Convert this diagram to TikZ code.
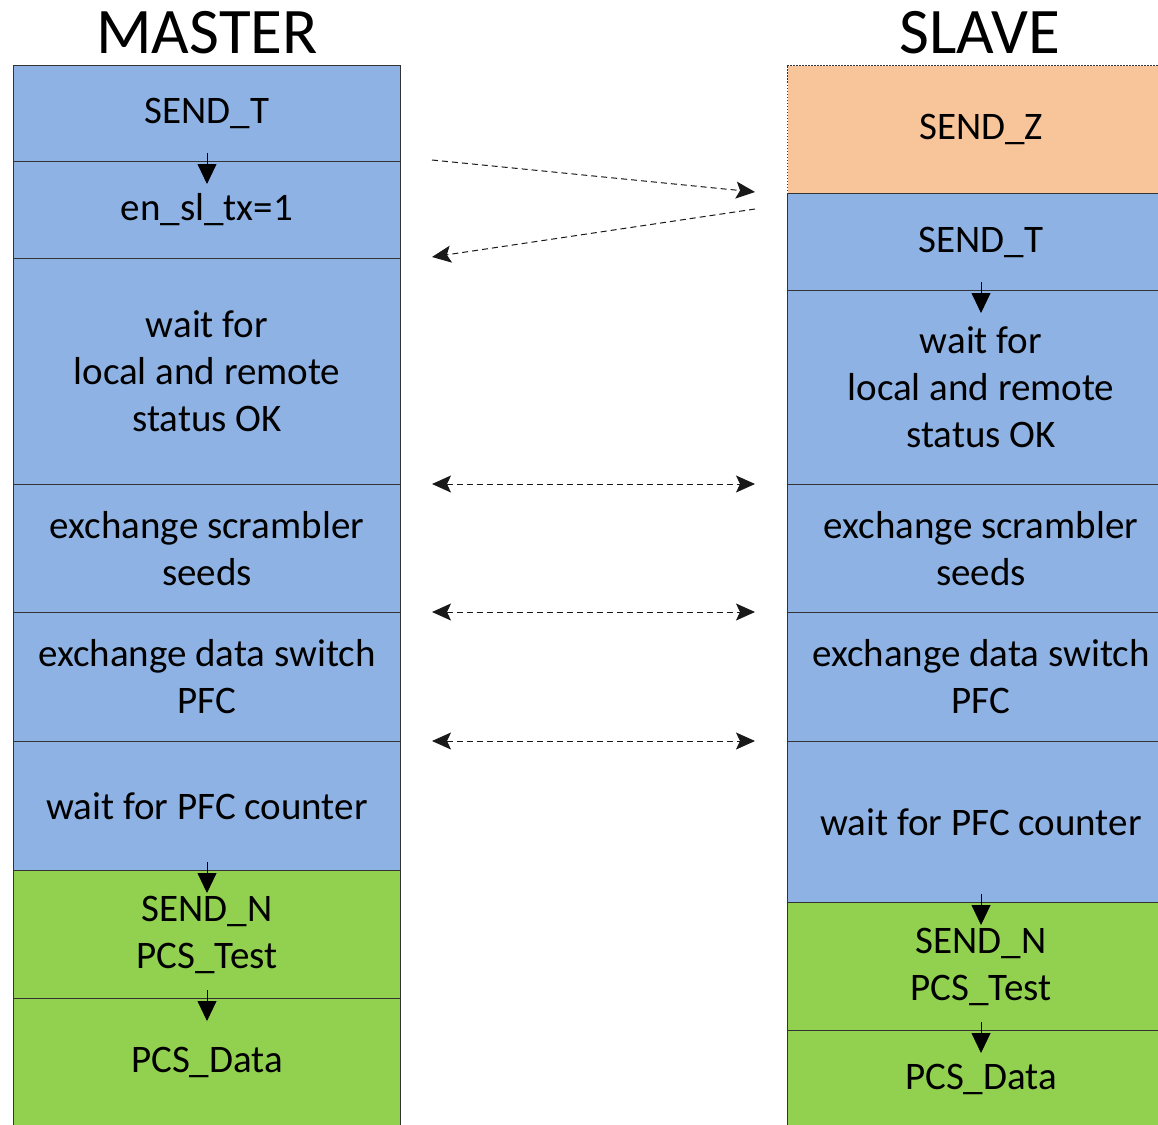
\documentclass[tikz,border=0pt]{standalone}
\usepackage{fontspec}
\setmainfont{Carlito}
\usetikzlibrary{arrows.meta}
\definecolor{boxblue}{HTML}{8EB2E3}
\definecolor{boxorange}{HTML}{F8C49A}
\definecolor{boxgreen}{HTML}{92D050}
\definecolor{edgecol}{HTML}{333333}
\begin{document}
\begin{tikzpicture}[x=1pt,y=-1pt,
  cell/.style={draw=edgecol,line width=1pt,anchor=north west,inner sep=0pt,
    align=center,font=\fontsize{39}{47}\selectfont},
  blue/.style={cell,fill=boxblue},
  orange/.style={cell,fill=boxorange,draw=none},
  green/.style={cell,fill=boxgreen},
  title/.style={font=\fontsize{65}{72}\selectfont,inner sep=0pt},
  flow/.style={-{Triangle[length=20pt,width=19pt]},line width=0.8pt},
  msg/.style={-{Stealth[length=19pt,width=17pt,inset=4pt]},dash pattern=on 6pt off 4pt,line width=1pt,draw=black!90},
  bmsg/.style={{Stealth[length=19pt,width=17pt,inset=4pt]}-{Stealth[length=19pt,width=17pt,inset=4pt]},dash pattern=on 6pt off 4pt,line width=1pt,draw=black!90}
]
\useasboundingbox (0,0) rectangle (1158,1124);
% titles
\node[title] (tm) at (207,33) {MASTER};
\node[title] (ts) at (980,33) {SLAVE};
% master
\node[blue,minimum width=387pt,minimum height=96pt] (m1) at (13,65) {SEND\_T};
\node[blue,minimum width=387pt,minimum height=97pt] (m2) at (13,161) {en\_sl\_tx=1};
\node[blue,minimum width=387pt,minimum height=226pt] (m3) at (13,258) {wait for\\local and remote\\status OK};
\node[blue,minimum width=387pt,minimum height=128pt] (m4) at (13,484) {exchange scrambler\\seeds};
\node[blue,minimum width=387pt,minimum height=129pt] (m5) at (13,612) {exchange data switch\\PFC};
\node[blue,minimum width=387pt,minimum height=129pt] (m6) at (13,741) {wait for PFC counter};
\node[green,minimum width=387pt,minimum height=128pt] (m7) at (13,870) {SEND\_N\\PCS\_Test};
\node[green,minimum width=387pt,minimum height=128pt] (m8) at (13,998) {PCS\_Data};
% slave
\node[orange,minimum width=387pt,minimum height=128pt] (s1) at (787,65) {SEND\_Z};
\draw[edgecol,line width=0.8pt,dash pattern=on 1.5pt off 1.5pt] (s1.south west) -- (s1.north west) -- (s1.north east);
\node[blue,minimum width=387pt,minimum height=97pt] (s2) at (787,193) {SEND\_T};
\node[blue,minimum width=387pt,minimum height=194pt] (s3) at (787,290) {wait for\\local and remote\\status OK};
\node[blue,minimum width=387pt,minimum height=128pt] (s4) at (787,484) {exchange scrambler\\seeds};
\node[blue,minimum width=387pt,minimum height=129pt] (s5) at (787,612) {exchange data switch\\PFC};
\node[blue,minimum width=387pt,minimum height=161pt] (s6) at (787,741) {wait for PFC counter};
\node[green,minimum width=387pt,minimum height=128pt] (s7) at (787,902) {SEND\_N\\PCS\_Test};
\node[green,minimum width=387pt,minimum height=98pt] (s8) at (787,1030) {PCS\_Data};
% flow arrows inside columns
\draw[flow] ([yshift=9pt]m1.south) -- ([yshift=-22pt]m1.south);
\draw[flow] ([yshift=9pt]m6.south) -- ([yshift=-22pt]m6.south);
\draw[flow] ([yshift=9pt]m7.south) -- ([yshift=-22pt]m7.south);
\draw[flow] ([yshift=9pt]s2.south) -- ([yshift=-22pt]s2.south);
\draw[flow] ([yshift=9pt]s6.south) -- ([yshift=-22pt]s6.south);
\draw[flow] ([yshift=9pt]s7.south) -- ([yshift=-22pt]s7.south);
% messages
\coordinate (a1) at (432,160);
\coordinate (a2) at (755,192);
\coordinate (b1) at (755,209);
\coordinate (b2) at (432,257);
\draw[msg] (a1) -- (a2);
\draw[msg] (b1) -- (b2);
\coordinate (c1) at (432,484);
\coordinate (c2) at (755,484);
\coordinate (d1) at (432,612);
\coordinate (d2) at (755,612);
\coordinate (e1) at (432,741);
\coordinate (e2) at (755,741);
\draw[bmsg] (c1) -- (c2);
\draw[bmsg] (d1) -- (d2);
\draw[bmsg] (e1) -- (e2);
\end{tikzpicture}
\end{document}
